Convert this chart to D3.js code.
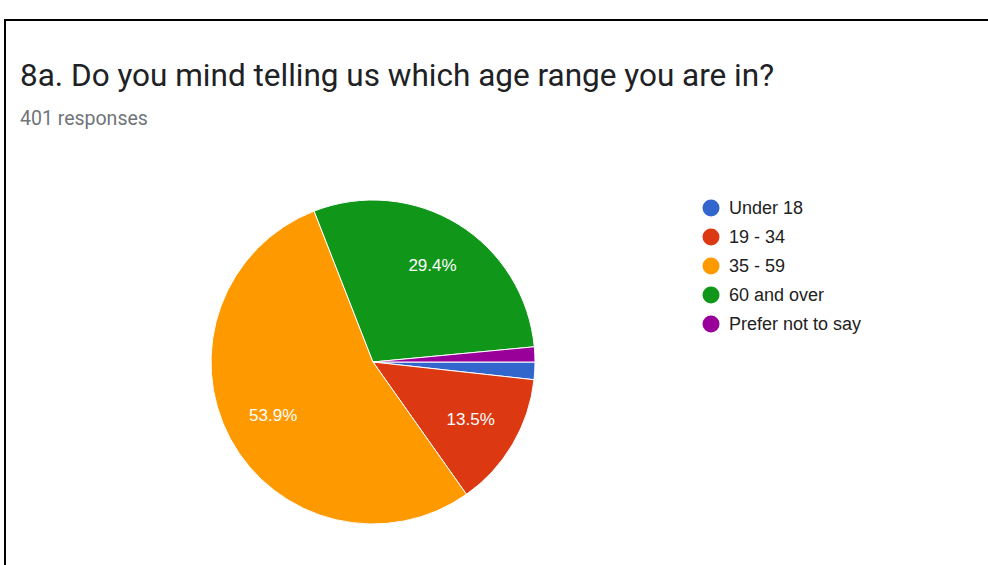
<!DOCTYPE html>
<html>
<head>
<meta charset="utf-8">
<script src="https://cdn.jsdelivr.net/npm/d3@7"></script>
<style>
  html, body { margin: 0; padding: 0; background: #fff; }
  svg { display: block; }
</style>
</head>
<body>
<svg id="chart" width="988" height="565"></svg>
<script>
// Survey question 8a: age ranges of respondents (401 responses)
const categories = ["Under 18", "19 - 34", "35 - 59", "60 and over", "Prefer not to say"];
const counts = [7, 54, 216, 118, 6];
const colors = ["#3366cc", "#dc3912", "#ff9900", "#109618", "#990099"];
const title = "8a. Do you mind telling us which age range you are in?";
const subtitle = "401 responses";

const svg = d3.select("#chart");
const W = 988, H = 565;

// card frame (left and top edges visible)
svg.append("path")
  .attr("d", `M5,${H + 5} L5,20 L${W + 5},20`)
  .attr("fill", "none")
  .attr("stroke", "#000")
  .attr("stroke-width", 2);

svg.append("text")
  .attr("x", 20).attr("y", 86)
  .attr("font-family", "Roboto, 'Open Sans', sans-serif")
  .attr("font-size", 31.5)
  .attr("fill", "#202124")
  .text(title);

svg.append("text")
  .attr("x", 20).attr("y", 125)
  .attr("font-family", "Roboto, 'Open Sans', sans-serif")
  .attr("font-size", 19.5)
  .attr("fill", "#70757a")
  .text(subtitle);

// pie
const cx = 373, cy = 362, R = 162;
const total = d3.sum(counts);
const data = categories.map((c, i) => ({ cat: c, value: counts[i], color: colors[i] }));

const pie = d3.pie()
  .value(d => d.value)
  .sort(null)
  .startAngle(Math.PI / 2)
  .endAngle(Math.PI / 2 + 2 * Math.PI);

const arc = d3.arc().innerRadius(0).outerRadius(R);
const labelArc = d3.arc().innerRadius(R * 0.7).outerRadius(R * 0.7);

const g = svg.append("g").attr("transform", `translate(${cx},${cy})`);
const arcs = pie(data);

g.selectAll("path.slice")
  .data(arcs)
  .join("path")
  .attr("class", "slice")
  .attr("d", arc)
  .attr("fill", d => d.data.color)
  .attr("stroke", "#fff")
  .attr("stroke-width", 1);

g.selectAll("text.pct")
  .data(arcs.filter(d => d.data.value / total > 0.05))
  .join("text")
  .attr("class", "pct")
  .attr("transform", d => `translate(${labelArc.centroid(d)})`)
  .attr("text-anchor", "middle")
  .attr("dominant-baseline", "central")
  .attr("font-family", "Arial, 'Liberation Sans', sans-serif")
  .attr("font-size", 17)
  .attr("fill", "#fff")
  .text(d => (d.data.value / total * 100).toFixed(1) + "%");

// legend
const legend = svg.append("g").attr("transform", "translate(711,208)");
const rows = legend.selectAll("g")
  .data(data)
  .join("g")
  .attr("transform", (d, i) => `translate(0,${i * 29})`);

rows.append("circle")
  .attr("r", 8.5)
  .attr("fill", d => d.color);

rows.append("text")
  .attr("x", 18)
  .attr("dominant-baseline", "central")
  .attr("font-family", "Arial, 'Liberation Sans', sans-serif")
  .attr("font-size", 18)
  .attr("fill", "#222")
  .text(d => d.cat);
</script>
</body>
</html>
